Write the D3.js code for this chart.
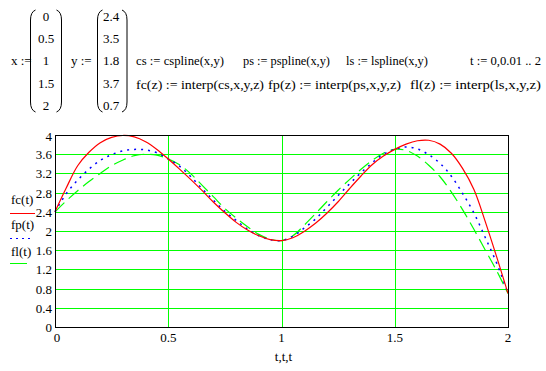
<!DOCTYPE html>
<html>
<head>
<meta charset="utf-8">
<script src="https://cdn.jsdelivr.net/npm/d3@7"></script>
<style>
  body { margin: 0; background: #fff; }
  svg { display: block; }
  svg text { font-family: "Liberation Serif", "Liberation Sans", Arial, sans-serif; font-size: 13px; fill: #000; }
</style>
</head>
<body>
<svg id="chart" width="546" height="371"></svg>
<script>
// knots shown in the header matrices
const xKnots = ["0", "0.5", "1", "1.5", "2"];
const yKnots = ["2.4", "3.5", "1.8", "3.7", "0.7"];

// sample positions (t) and curve values
const tValues = [0, 0.05, 0.1, 0.15, 0.2, 0.25, 0.3, 0.35, 0.4, 0.45, 0.5, 0.55, 0.6, 0.65, 0.7, 0.75, 0.8, 0.85, 0.9, 0.95,
    1, 1.05, 1.1, 1.15, 1.2, 1.25, 1.3, 1.35, 1.4, 1.45, 1.5, 1.55, 1.6, 1.65, 1.7, 1.75, 1.8, 1.85, 1.9, 1.95, 2];
const fcValues = [2.40, 2.90, 3.36, 3.64, 3.84, 3.95, 3.99, 3.96, 3.86, 3.70, 3.50, 3.29, 3.07, 2.84, 2.60, 2.38, 2.18, 2.02, 1.90, 1.82,
    1.80, 1.86, 1.99, 2.16, 2.37, 2.61, 2.88, 3.14, 3.38, 3.56, 3.70, 3.81, 3.88, 3.89, 3.81, 3.62, 3.30, 2.86, 2.19, 1.46, 0.70];
const fpValues = [2.40, 2.78, 3.06, 3.29, 3.47, 3.59, 3.67, 3.70, 3.69, 3.63, 3.50, 3.35, 3.13, 2.88, 2.64, 2.41, 2.22, 2.04, 1.90, 1.82,
    1.80, 1.89, 2.06, 2.25, 2.49, 2.74, 2.98, 3.21, 3.42, 3.60, 3.70, 3.75, 3.71, 3.59, 3.41, 3.14, 2.78, 2.37, 1.86, 1.33, 0.70];
const flValues = [2.40, 2.63, 2.84, 3.03, 3.20, 3.36, 3.48, 3.57, 3.60, 3.58, 3.50, 3.38, 3.19, 2.95, 2.71, 2.47, 2.27, 2.09, 1.93, 1.83,
    1.80, 1.90, 2.12, 2.36, 2.61, 2.85, 3.07, 3.28, 3.47, 3.62, 3.70, 3.68, 3.56, 3.37, 3.13, 2.81, 2.44, 2.03, 1.60, 1.17, 0.70];

const xTicks = [0, 0.5, 1, 1.5, 2];
const yTicks = [0, 0.4, 0.8, 1.2, 1.6, 2, 2.4, 2.8, 3.2, 3.6, 4];

const svg = d3.select("#chart");

//HEADER-----------------------------------------------------------------------------------
const header = svg.append("g");

function paren(x, y0, y1, dir) {
    // dir = 1 for "(", -1 for ")"
    const c = 5 * dir;
    return `M${x + c},${y0} Q${x},${y0 + 2} ${x},${y0 + 10} L${x},${y1 - 10} Q${x},${y1 - 2} ${x + c},${y1}`;
}

function matrix(cx, pl, pr, labels) {
    header.append("path").attr("d", paren(pl, 10, 112, 1))
        .attr("fill", "none").attr("stroke", "#000").attr("stroke-width", 1);
    header.append("path").attr("d", paren(pr, 10, 112, -1))
        .attr("fill", "none").attr("stroke", "#000").attr("stroke-width", 1);
    labels.forEach((d, i) => {
        header.append("text")
            .attr("x", cx)
            .attr("y", 21 + i * 22.2)
            .attr("text-anchor", "middle")
            .text(d);
    });
}

header.append("text").attr("x", 11).attr("y", 65).text("x :=");
matrix(46, 30.5, 61.5, xKnots);
header.append("text").attr("x", 71).attr("y", 65).text("y :=");
matrix(111, 97.5, 127, yKnots);

// header formulas: [x start, baseline, x end, text]
const formulas = [
    [136, 65, 224, "cs := cspline(x,y)"],
    [243, 65, 330, "ps := pspline(x,y)"],
    [346, 65, 428, "ls := lspline(x,y)"],
    [470, 65, 541, "t := 0,0.01 .. 2"],
    [136, 89, 264, "fc(z) := interp(cs,x,y,z)"],
    [268, 89, 401, "fp(z) := interp(ps,x,y,z)"],
    [410, 89, 541, "fl(z) := interp(ls,x,y,z)"]
];
formulas.forEach(d => header.append("text")
    .attr("x", d[0])
    .attr("y", d[1])
    .attr("textLength", d[2] - d[0])
    .attr("lengthAdjust", "spacingAndGlyphs")
    .style("font-size", "12px")
    .text(d[3]));

//PLOT-----------------------------------------------------------------------------------
const plotLeft = 55, plotRight = 508, plotTop = 135, plotBottom = 327;

const xScale = d3.scaleLinear().domain([0, 2]).range([plotLeft, plotRight]);
const yScale = d3.scaleLinear().domain([0, 4]).range([plotBottom, plotTop]);

const plot = svg.append("g");

// grid
plot.selectAll(".hgrid")
    .data(yTicks.filter(v => v > 0 && v < 4))
    .join("line")
    .attr("x1", plotLeft).attr("x2", plotRight)
    .attr("y1", d => Math.round(yScale(d)) + 0.5)
    .attr("y2", d => Math.round(yScale(d)) + 0.5)
    .attr("stroke", "#00ff00");

plot.selectAll(".vgrid")
    .data(xTicks.filter(v => v > 0 && v < 2))
    .join("line")
    .attr("y1", plotTop).attr("y2", plotBottom)
    .attr("x1", d => Math.round(xScale(d)) + 0.5)
    .attr("x2", d => Math.round(xScale(d)) + 0.5)
    .attr("stroke", "#00ff00");

// curves
const curves = [
    { values: fcValues, color: "#ff0000", dash: null, width: 1.2 },
    { values: fpValues, color: "#0000ff", dash: "2,5", width: 1.5 },
    { values: flValues, color: "#00ff00", dash: "13,6", width: 1.2 }
];

const lineGen = d3.line()
    .x(d => xScale(d[0]))
    .y(d => yScale(d[1]))
    .curve(d3.curveCatmullRom.alpha(0.5));

curves.slice().reverse().forEach(c => {
    plot.append("path")
        .datum(tValues.map((t, i) => [t, c.values[i]]))
        .attr("d", lineGen)
        .attr("fill", "none")
        .attr("stroke", c.color)
        .attr("stroke-width", c.width)
        .attr("stroke-dasharray", c.dash);
});

// frame
plot.append("rect")
    .attr("x", plotLeft + 0.5).attr("y", plotTop + 0.5)
    .attr("width", plotRight - plotLeft).attr("height", plotBottom - plotTop)
    .attr("fill", "none").attr("stroke", "#000");

// tick labels
plot.selectAll(".ylab")
    .data(yTicks)
    .join("text")
    .attr("x", 52)
    .attr("y", d => Math.max(yScale(d) + 5, plotTop + 6))
    .attr("text-anchor", "end")
    .text(d => d3.format("~g")(d));

plot.selectAll(".xlab")
    .data(xTicks)
    .join("text")
    .attr("x", d => Math.max(xScale(d), plotLeft + 2))
    .attr("y", 342)
    .attr("text-anchor", "middle")
    .text(d => d3.format("~g")(d));

plot.append("text")
    .attr("x", (plotLeft + plotRight) / 2 + 2)
    .attr("y", 361)
    .attr("text-anchor", "middle")
    .text("t,t,t");

// legend on the y axis
const legend = [
    { label: "fc(t)", y: 204, ly: 213.5, x2: 35, color: "#ff0000", dash: null },
    { label: "fp(t)", y: 229, ly: 238.5, x2: 32, color: "#0000ff", dash: "2,4" },
    { label: "fl(t)", y: 256, ly: 263.5, x2: 27, color: "#00ff00", dash: null }
];
legend.forEach(d => {
    svg.append("text").attr("x", 11).attr("y", d.y).text(d.label);
    svg.append("line")
        .attr("x1", 10).attr("x2", d.x2)
        .attr("y1", d.ly).attr("y2", d.ly)
        .attr("stroke", d.color)
        .attr("stroke-dasharray", d.dash);
});
</script>
</body>
</html>
